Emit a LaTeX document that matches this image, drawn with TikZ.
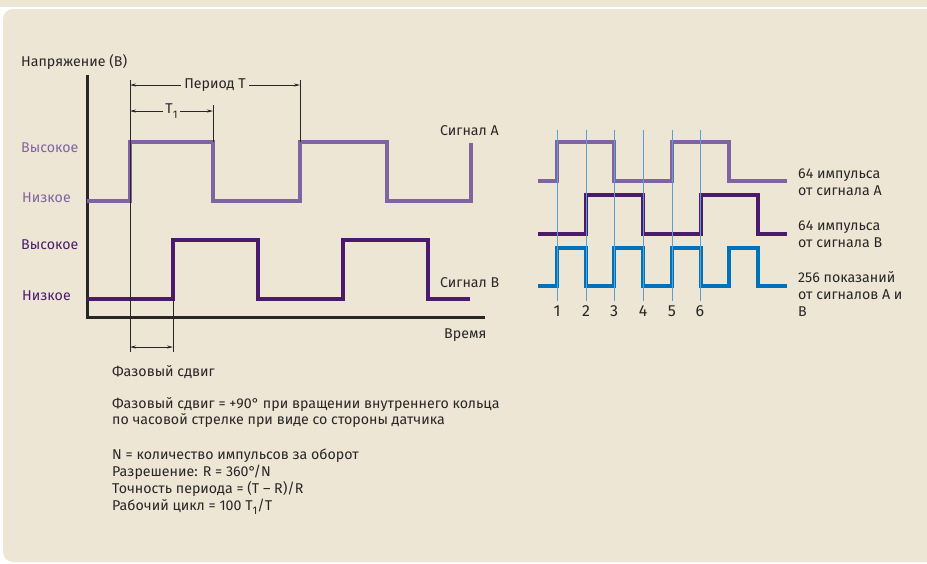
\documentclass[tikz,border=0pt]{standalone}
\usepackage{fontspec}
\setmainfont{Fira Sans}
\usepackage{tikz}
\usetikzlibrary{arrows.meta, positioning}

\definecolor{panel}{RGB}{237,230,213}
\definecolor{sigA}{RGB}{128,100,160}
\definecolor{sigB}{RGB}{75,25,110}
\definecolor{sigC}{RGB}{0,114,188}
\definecolor{tickblue}{RGB}{90,160,210}
\definecolor{ink}{RGB}{40,38,38}

\newcommand{\tsub}[1]{\raisebox{-0.3em}{\fontsize{11}{12}\selectfont #1}}

\begin{document}
\begin{tikzpicture}[
    x=1pt, y=-1pt,
    txt/.style={inner sep=0pt, anchor=west, text=ink, font=\fontsize{14.2}{16.8}\selectfont, align=left},
    wave/.style={line width=4pt, line join=miter},
    axis/.style={line width=3pt, draw=ink},
    guide/.style={line width=0.6pt, draw=ink},
    dim/.style={{Stealth[length=6pt,width=3pt]}-{Stealth[length=6pt,width=3pt]}, line width=0.6pt, draw=ink},
    tick/.style={line width=0.9pt, draw=tickblue}
]
    % background
    \useasboundingbox (0,0) rectangle (927,563);
    \fill[white] (0,0) rectangle (927,563);
    \fill[panel] (0,0) rectangle (927,7);
    \fill[panel] (3,9) -- (930,9) -- (930,562) [rounded corners=10pt] -- (3,562) -- cycle;

    % left diagram
    \node[txt] (volt) at (21,62) {Напряжение (В)};
    \node[txt, text=sigA] (highA) at (21,148) {Высокое};
    \node[txt, text=sigA] (lowA) at (22,198) {Низкое};
    \node[txt, text=sigB] (highB) at (21,245) {Высокое};
    \node[txt, text=sigB] (lowB) at (22,296) {Низкое};

    \draw[axis] (87,75) -- (87,317) -- (485,317);

    \draw[wave, sigA] (87,201) -- (130,201) -- (130,142) -- (213,142) -- (213,201)
        -- (300,201) -- (300,142) -- (387,142) -- (387,201) -- (471,201) -- (471,143);
    \draw[wave, sigB] (87,299) -- (173,299) -- (173,240) -- (258,240) -- (258,299)
        -- (343,299) -- (343,240) -- (428,240) -- (428,299) -- (470,299);

    \node[txt] (labA) at (440,131) {Сигнал А};
    \node[txt] (labB) at (440,283) {Сигнал В};
    \node[txt] (time) at (444,335) {Время};

    % dimension lines
    \coordinate (riseA) at (130,80);
    \coordinate (fallA) at (213,105);
    \coordinate (nextA) at (300,80);
    \coordinate (riseB) at (173,299);
    \draw[guide] (riseA) -- (130,352);
    \draw[guide] (fallA) -- (213,142);
    \draw[guide] (nextA) -- (300,142);
    \draw[guide] (riseB) -- (173,352);

    \draw[dim] (riseA |- 0,85) -- (nextA |- 0,85)
        node[midway, fill=panel, text=ink, inner sep=3pt, font=\fontsize{14.2}{16}\selectfont] (per) {Период T};
    \draw[dim] (riseA |- 0,111) -- (fallA |- 0,111)
        node[midway, fill=panel, text=ink, inner sep=2pt, font=\fontsize{14.2}{16}\selectfont] (tone) {T\tsub{1}};
    \draw[dim] (riseA |- 0,347) -- (riseB |- 0,347);

    \node[txt] (shift) at (112,372) {Фазовый сдвиг};
    \node[txt, anchor=north west] (note) at (112,397) {Фазовый сдвиг = +90° при вращении внутреннего кольца\\по часовой стрелке при виде со стороны датчика};
    \node[txt, anchor=north west] (formulas) at (112,449) {N = количество импульсов за оборот\\Разрешение: R = 360°/N\\Точность периода = (T – R)/R\\Рабочий цикл = 100 T\tsub{1}/T};

    % right diagram
    \draw[wave, sigA] (538,181) -- (557,181) -- (557,142) -- (614,142) -- (614,181)
        -- (672,181) -- (672,142) -- (729,142) -- (729,181) -- (787,181);
    \draw[wave, sigB] (538,234) -- (586,234) -- (586,195) -- (643,195) -- (643,234)
        -- (701,234) -- (701,195) -- (758,195) -- (758,234) -- (787,234);
    \draw[wave, sigC] (538,286) -- (557,286) -- (557,248) -- (586,248) -- (586,286)
        -- (614,286) -- (614,248) -- (643,248) -- (643,286) -- (672,286) -- (672,248)
        -- (701,248) -- (701,286) -- (729,286) -- (729,248) -- (758,248) -- (758,286) -- (787,286);

    \foreach \x [count=\i] in {557,586,614,643,672,700} {
        \node[txt, anchor=center, font=\fontsize{16}{18}\selectfont] (n\i) at (\x,311) {\i};
        \draw[tick] (\x,130) -- (\x,301);
    }

    \node[txt] (cntA) at (798,182) {64 импульса\\от сигнала А};
    \node[txt] (cntB) at (798,234) {64 импульса\\от сигнала В};
    \node[txt] (cntC) at (798,294) {256 показаний\\от сигналов А и\\В};
\end{tikzpicture}
\end{document}
